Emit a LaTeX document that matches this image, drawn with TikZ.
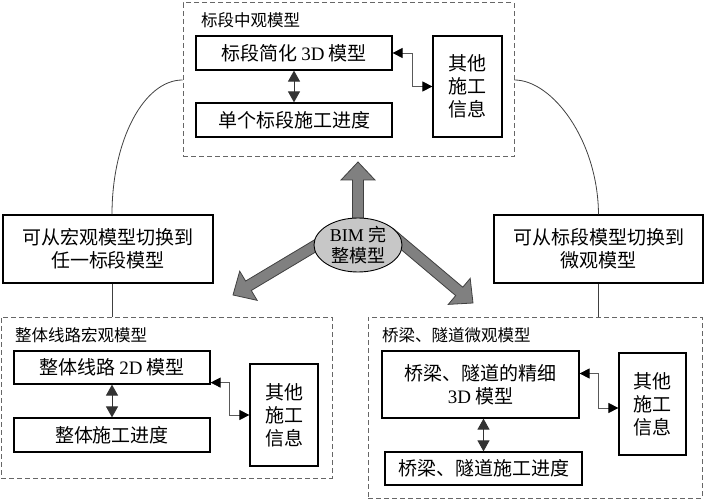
\documentclass[tikz,border=0pt]{standalone}
\usepackage{fontspec}
\setmainfont{Liberation Serif}
\newfontfamily\cjk{Noto Sans CJK SC}
\usetikzlibrary{arrows.meta,shapes.geometric,calc}
\newcommand\lat[1]{{\rmfamily #1}}
\newcommand\fatarrow[2]{%
\path[fat] let \p1=(#1), \p2=(#2), \n1={veclen(\x2-\x1,\y2-\y1)}, \n2={(\x2-\x1)/\n1}, \n3={(\y2-\y1)/\n1} in
 ({\x1-\n3*5.5pt},{\y1+\n2*5.5pt})
 -- ({\x2-\n2*18pt-\n3*5.5pt},{\y2-\n3*18pt+\n2*5.5pt})
 -- ({\x2-\n2*18pt-\n3*17pt},{\y2-\n3*18pt+\n2*17pt})
 -- (\p2)
 -- ({\x2-\n2*18pt+\n3*17pt},{\y2-\n3*18pt-\n2*17pt})
 -- ({\x2-\n2*18pt+\n3*5.5pt},{\y2-\n3*18pt-\n2*5.5pt})
 -- ({\x1+\n3*5.5pt},{\y1-\n2*5.5pt}) -- cycle;}
\begin{document}
\begin{tikzpicture}[x=1pt,y=-1pt,
 box/.style={draw=black, line width=1.2pt, inner sep=0pt, align=center, font=\cjk\fontsize{19}{23}\selectfont},
 dbox/.style={draw=black!60, line width=1pt, dash pattern=on 5pt off 3pt, inner sep=0pt},
 ttl/.style={anchor=west, inner sep=0pt, font=\cjk\fontsize{16.5}{18}\selectfont},
 ell/.style={ellipse, draw=black, line width=0.9pt, fill=black!22, minimum width=88pt, minimum height=54pt, inner sep=0pt, align=center, font=\cjk\fontsize{18}{21}\selectfont},
 conn/.style={draw=black!75, line width=0.8pt},
 dbl/.style={draw=black!80, line width=1pt, {Triangle[width=12pt,length=11pt]}-{Triangle[width=12pt,length=11pt]}},
 sdbl/.style={draw=black!65, line width=0.8pt, {Triangle[width=10pt,length=10pt,color=black]}-{Triangle[width=10pt,length=10pt,color=black]}},
 fat/.style={draw=black!75, fill=black!50, line width=0.8pt, line join=miter},
]
\useasboundingbox (0,0) rectangle (705,500);
% group boxes
\node[dbox, minimum width=331pt, minimum height=154pt] (gtop) at (348.5,80) {};
\node[dbox, minimum width=331pt, minimum height=161pt] (gleft) at (166.5,397.5) {};
\node[dbox, minimum width=334pt, minimum height=181pt] (gright) at (535,407.5) {};
\node[ttl] (t1) at (201,20) {标段中观模型};
\node[ttl] (t2) at (15,335) {整体线路宏观模型};
\node[ttl] (t3) at (382,335) {桥梁、隧道微观模型};
% top group
\node[box, minimum width=196pt, minimum height=34pt] (m3d) at (294,53) {标段简化 \lat{3D} 模型};
\node[box, minimum width=196pt, minimum height=34pt] (p1) at (294,120) {单个标段施工进度};
\node[box, minimum width=69pt, minimum height=101pt] (o1) at (467.5,86.5) {其他\\施工\\信息};
% middle
\node[box, minimum width=210pt, minimum height=68pt] (lb) at (108,249) {可从宏观模型切换到\\任一标段模型};
\node[box, minimum width=209pt, minimum height=68pt] (rb) at (598.5,249) {可从标段模型切换到\\微观模型};
% bottom left group
\node[box, minimum width=196pt, minimum height=33pt] (m2d) at (112,367.5) {整体线路 \lat{2D} 模型};
\node[box, minimum width=196pt, minimum height=34pt] (p2) at (112,435) {整体施工进度};
\node[box, minimum width=68pt, minimum height=102pt] (o2) at (284,415) {其他\\施工\\信息};
% bottom right group
\node[box, minimum width=197pt, minimum height=67pt] (fine) at (480.5,384.5) {桥梁、隧道的精细\\\lat{3D} 模型};
\node[box, minimum width=197pt, minimum height=33pt] (p3) at (483.5,468.5) {桥梁、隧道施工进度};
\node[box, minimum width=67pt, minimum height=102pt] (o3) at (652.5,404) {其他\\施工\\信息};
% fat arrows and centre
\coordinate (sU) at (358,235);
\coordinate (tU) at (358,162);
\coordinate (sL) at (330,237);
\coordinate (tL) at (233,295);
\coordinate (sR) at (390,233);
\coordinate (tR) at (473,303);
\fatarrow{sU}{tU}
\fatarrow{sL}{tL}
\fatarrow{sR}{tR}
\node[ell] (bim) at (358,245) {\lat{BIM} 完\\整模型};
% connectors
\coordinate (xL) at (112,0);
\draw[conn] (lb.north -| xL) .. controls (112,140) and (144,80) .. (gtop.west);
\draw[conn] (gtop.east) .. controls (552,80) and (598,140) .. (rb.north);
\draw[conn] (lb.south -| xL) -- (gleft.north -| xL);
\draw[conn] (rb.south) -- (gright.north -| rb.south);
\draw[dbl] (m3d.south) -- (p1.north);
\draw[dbl] (m2d.south) -- (p2.north);
\draw[dbl] (p3.north |- fine.south) -- (p3.north);
\draw[sdbl] (m3d.east) -- ++(20,0) |- (o1.west);
\draw[sdbl] ([yshift=2pt]m2d.south east) -- ++(19,0) |- (o2.west);
\draw[sdbl] ([yshift=11pt]fine.east) -- ++(19,0) |- ([yshift=-4pt]o3.west);
\end{tikzpicture}
\end{document}
